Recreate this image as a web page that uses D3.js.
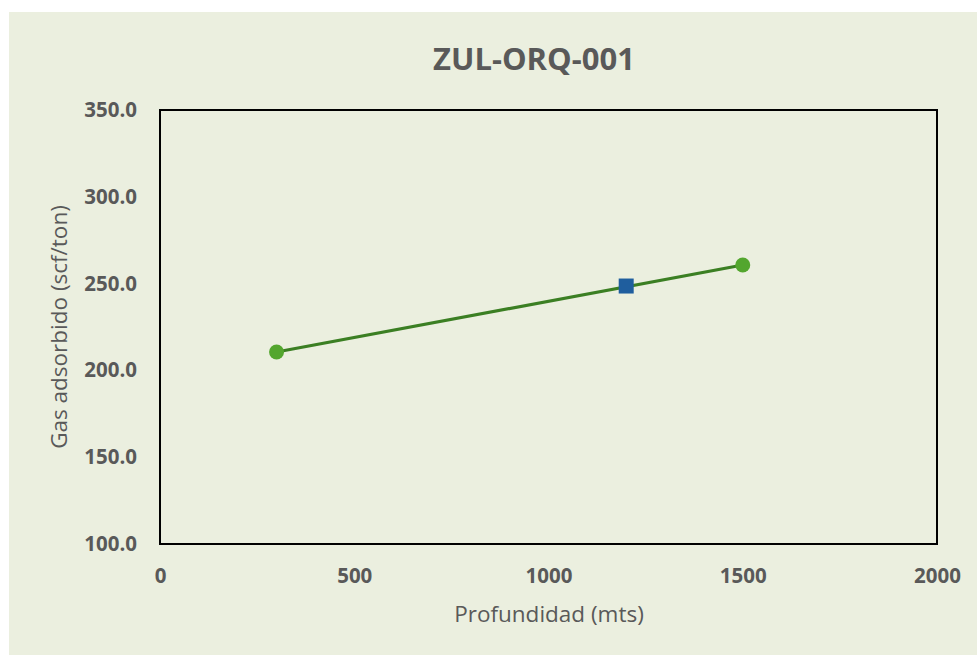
<!DOCTYPE html>
<html><head><meta charset="utf-8">
<script src="https://cdn.jsdelivr.net/npm/d3@7"></script>
<style>body{margin:0;background:#fff;}svg{display:block;}</style>
</head><body>
<svg id="c" width="977" height="655"></svg>
<script>
const title = "ZUL-ORQ-001";
const xTitle = "Profundidad (mts)";
const yTitle = "Gas adsorbido (scf/ton)";
const xTicks = [0, 500, 1000, 1500, 2000];
const yTicks = [100, 150, 200, 250, 300, 350];
const lineDepth = [300, 1500];
const lineGas = [210.6, 260.7];
const squareDepth = [1200];
const squareGas = [248.6];

const svg = d3.select("#c");
const font = "'Open Sans', 'Liberation Sans', sans-serif";
const gray = "#595959";
svg.append("rect").attr("x", 9).attr("y", 12).attr("width", 968).attr("height", 643).attr("fill", "#EBEFDF");

const m = {l: 160, r: 937, t: 110, b: 544};
const x = d3.scaleLinear().domain([0, 2000]).range([m.l, m.r]);
const y = d3.scaleLinear().domain([100, 350]).range([m.b, m.t]);

svg.append("rect").attr("x", m.l).attr("y", m.t).attr("width", m.r - m.l).attr("height", m.b - m.t)
  .attr("fill", "none").attr("stroke", "#000").attr("stroke-width", 2);

const ya = svg.append("g").attr("transform", `translate(${m.l},0)`)
  .call(d3.axisLeft(y).tickValues(yTicks).tickFormat(d3.format(".1f")).tickSize(0).tickPadding(23));
ya.select(".domain").remove();
ya.selectAll("text").attr("font-family", font).attr("font-size", 20.5).attr("font-weight", "bold").attr("fill", gray);

const xa = svg.append("g").attr("transform", `translate(0,${m.b})`)
  .call(d3.axisBottom(x).tickValues(xTicks).tickFormat(d3.format("d")).tickSize(0).tickPadding(24));
xa.select(".domain").remove();
xa.selectAll("text").attr("font-family", font).attr("font-size", 20.5).attr("font-weight", "bold").attr("fill", gray);

svg.append("text").attr("x", 534).attr("y", 70).attr("text-anchor", "middle")
  .attr("font-family", font).attr("font-size", 31).attr("font-weight", "bold").attr("fill", gray).text(title);
svg.append("text").attr("x", 549).attr("y", 622).attr("text-anchor", "middle")
  .attr("font-family", font).attr("font-size", 22.5).attr("fill", gray).text(xTitle);
svg.append("text").attr("transform", "translate(67,327) rotate(-90)").attr("text-anchor", "middle")
  .attr("font-family", font).attr("font-size", 22.5).attr("fill", gray).text(yTitle);

const pts = lineDepth.map((d, i) => [d, lineGas[i]]);
svg.append("path").datum(pts)
  .attr("d", d3.line().x(d => x(d[0])).y(d => y(d[1])))
  .attr("fill", "none").attr("stroke", "#3B7F23").attr("stroke-width", 3.2);
svg.selectAll("circle.p").data(pts).enter().append("circle")
  .attr("cx", d => x(d[0])).attr("cy", d => y(d[1])).attr("r", 7.5).attr("fill", "#53A62E");
svg.selectAll("rect.s").data(squareDepth.map((d, i) => [d, squareGas[i]])).enter().append("rect")
  .attr("x", d => x(d[0]) - 7.5).attr("y", d => y(d[1]) - 7.5).attr("width", 15).attr("height", 15)
  .attr("fill", "#1F5E9E");
</script>
</body></html>
